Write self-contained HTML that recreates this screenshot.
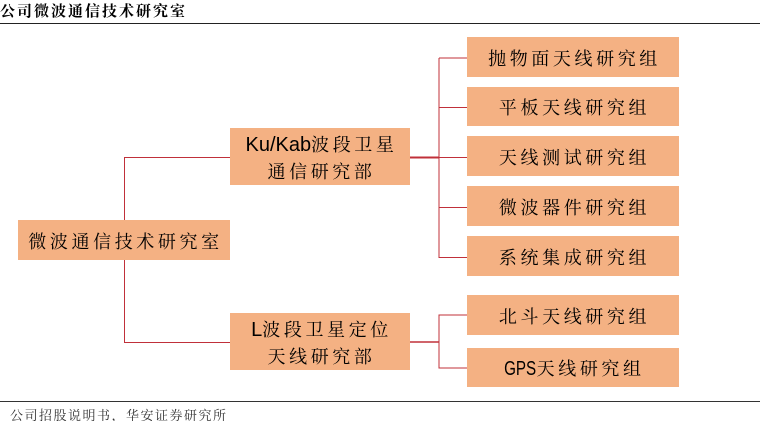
<!DOCTYPE html>
<html lang="zh"><head><meta charset="utf-8"><style>
html,body{margin:0;padding:0;background:#fff}
#p{position:relative;width:760px;height:421px;overflow:hidden;background:#fff;font-family:"Liberation Sans","Noto Serif CJK SC",serif;color:#000}
.b{position:absolute;box-sizing:border-box;padding:4px 0 0 3px;background:#f4b183;text-align:center;font-size:18px;letter-spacing:3.6px;white-space:nowrap;display:flex;flex-direction:column;justify-content:center;line-height:27px}
.b i{font-style:normal;font-size:20px;letter-spacing:0}
.b u{text-decoration:none;display:inline-block;font-size:20px;letter-spacing:0;transform:scaleX(.76);margin:0 -5px}
.t{position:absolute;white-space:nowrap}
svg{position:absolute;left:0;top:0}
</style></head><body><div id="p">
<div class="t" style="left:0;top:1px;font-size:15px;letter-spacing:2px;line-height:22px;font-weight:700;color:#000">公司微波通信技术研究室</div>
<div class="t" style="left:10px;top:407px;font-size:13px;letter-spacing:1.5px;line-height:18px;color:#333">公司招股说明书，华安证券研究所</div>
<svg width="760" height="421" fill="none">
<path d="M0 23.5H760" stroke="#222" stroke-width="1"/>
<path d="M0 401.5H760" stroke="#333" stroke-width="1"/>
<g stroke="#c0303a" stroke-width="1">
<path d="M230 157.5H124.5V342.5H230"/>
<path d="M439 58H467M439 107.5H467M439 157.5H467M439 207.5H467M439 257.5H467M439 58V258"/>
<path d="M410 157.5H439" stroke-width="2"/>
<path d="M410 342H439" stroke-width="1.5"/>
<path d="M467 315H439V368H467"/>
</g>
</svg>
<div class="b" style="left:18px;top:220px;width:212px;height:40px">微波通信技术研究室</div>
<div class="b" style="left:230px;top:128px;width:180px;height:57px"><span><i>Ku/Kab</i>波段卫星</span><span>通信研究部</span></div>
<div class="b" style="left:230px;top:313px;width:180px;height:57px"><span><i>L</i>波段卫星定位</span><span>天线研究部</span></div>
<div class="b" style="left:467px;top:37px;width:212px;height:40px">抛物面天线研究组</div>
<div class="b" style="left:467px;top:87px;width:212px;height:39px">平板天线研究组</div>
<div class="b" style="left:467px;top:136px;width:212px;height:40px">天线测试研究组</div>
<div class="b" style="left:467px;top:186px;width:212px;height:40px">微波器件研究组</div>
<div class="b" style="left:467px;top:236px;width:212px;height:40px">系统集成研究组</div>
<div class="b" style="left:467px;top:295px;width:212px;height:40px">北斗天线研究组</div>
<div class="b" style="left:467px;top:348px;width:212px;height:39px"><span><u>GPS</u>天线研究组</span></div>
</div></body></html>
